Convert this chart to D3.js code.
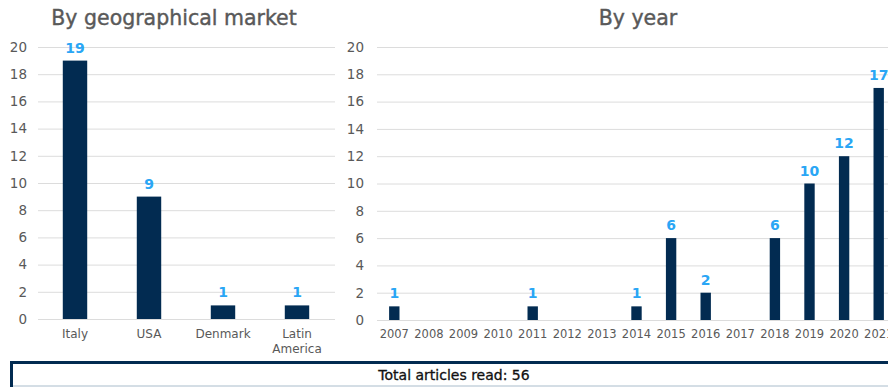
<!DOCTYPE html>
<html>
<head>
<title>Articles read</title>
<script src="https://d3js.org/d3.v7.min.js"></script>
<style>
  body { margin: 0; background: #fff; }
  svg text { font-family: "DejaVu Sans", sans-serif; }
</style>
</head>
<body>
<svg id="chart" width="888" height="387"></svg>
<script>
// data
const markets = ["Italy", "USA", "Denmark", "Latin America"];
const marketCounts = [19, 9, 1, 1];
const years = ["2007","2008","2009","2010","2011","2012","2013","2014","2015","2016","2017","2018","2019","2020","2021"];
const yearCounts = [1, 0, 0, 0, 1, 0, 0, 1, 6, 2, 0, 6, 10, 12, 17];
const yTicks = [0, 2, 4, 6, 8, 10, 12, 14, 16, 18, 20];
const totalRead = 56;

const navy = "#022b51";
const blue = "#2aa6f5";
const grey = "#595959";

const svg = d3.select("#chart");

function panel(opts) {
  const g = svg.append("g");
  const rows = opts.cats.map((c, i) => ({ cat: c, val: opts.vals[i] }));
  const y = d3.scaleLinear().domain([0, 20]).range([opts.y0, 47]);
  const x = d3.scaleBand().domain(opts.cats).range([opts.x0, opts.x1])
    .paddingInner(opts.pad).paddingOuter(opts.pad / 2);

  // gridlines
  g.selectAll(".grid")
    .data(yTicks)
    .enter().append("line")
    .attr("x1", opts.x0).attr("x2", opts.gridEnd)
    .attr("y1", d => y(d) + 0.5).attr("y2", d => y(d) + 0.5)
    .attr("stroke", "#dcdcdc").attr("stroke-width", 1);

  const yAxis = d3.axisLeft(y).tickValues(yTicks).tickSize(0).tickPadding(0);
  const ya = g.append("g").attr("transform", `translate(${opts.yLabelX},0)`).call(yAxis);
  ya.select(".domain").remove();
  ya.selectAll("text").attr("fill", grey).style("font-size", "13.5px");

  g.selectAll(".bar")
    .data(rows.filter(d => d.val > 0))
    .enter().append("rect")
    .attr("x", d => x(d.cat))
    .attr("width", x.bandwidth())
    .attr("y", d => y(d.val))
    .attr("height", d => y(0) - y(d.val))
    .attr("fill", navy);

  g.selectAll(".val")
    .data(rows.filter(d => d.val > 0))
    .enter().append("text")
    .attr("x", d => x(d.cat) + x.bandwidth() / 2)
    .attr("y", d => y(d.val) - 8)
    .attr("text-anchor", "middle")
    .attr("fill", blue)
    .style("font-size", "14px").style("font-weight", "bold")
    .text(d => d.val);

  // category labels
  const xAxis = d3.axisBottom(x).tickSize(0).tickPadding(0);
  const xa = g.append("g").attr("transform", `translate(0,${opts.y0 + 10})`).call(xAxis);
  xa.select(".domain").remove();
  xa.selectAll("text").attr("fill", grey).style("font-size", opts.catSize)
    .each(function (d) {
      const words = d.split(" ");
      if (words.length > 1) {
        const t = d3.select(this).text(null);
        words.forEach((w, k) => t.append("tspan").attr("x", 0).attr("dy", k === 0 ? "0.71em" : "1.25em").text(w));
        t.attr("dy", null);
      }
    });

  svg.append("text")
    .attr("x", opts.titleX).attr("y", 25)
    .attr("text-anchor", "middle")
    .attr("fill", grey)
    .attr("stroke", grey).attr("stroke-width", 0.4)
    .style("font-size", "20.5px")
    .text(opts.title);
}

panel({ cats: markets, vals: marketCounts, x0: 38, x1: 334, gridEnd: 335, y0: 319, pad: 0.67, yLabelX: 27, catSize: "12px", title: "By geographical market", titleX: 174 });
panel({ cats: years, vals: yearCounts, x0: 377, x1: 896, gridEnd: 888, y0: 320, pad: 0.7, yLabelX: 364, catSize: "11.5px", title: "By year", titleX: 638 });

// total box
svg.append("rect").attr("x", 11.5).attr("y", 362).attr("width", 900).attr("height", 24)
  .attr("fill", "none").attr("stroke", "#a9bccb").attr("stroke-width", 1);
svg.append("line").attr("x1", 10).attr("x2", 888).attr("y1", 362.5).attr("y2", 362.5)
  .attr("stroke", navy).attr("stroke-width", 3);
svg.append("line").attr("x1", 11.5).attr("x2", 11.5).attr("y1", 361).attr("y2", 387)
  .attr("stroke", navy).attr("stroke-width", 3);
svg.append("text").attr("x", 454).attr("y", 380).attr("text-anchor", "middle")
  .attr("fill", "#111").attr("stroke", "#111").attr("stroke-width", 0.3)
  .style("font-size", "14px")
  .text("Total articles read: " + totalRead);
</script>
</body>
</html>
